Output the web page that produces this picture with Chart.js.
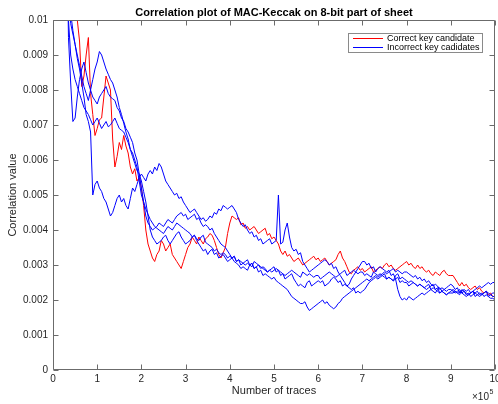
<!DOCTYPE html>
<html><head><meta charset="utf-8">
<script src="https://cdn.jsdelivr.net/npm/chart.js@4.4.1/dist/chart.umd.min.js"></script>
<style>
html,body{margin:0;padding:0;overflow:hidden;background:#fff;width:498px;height:404px}
#wrap{position:absolute;left:0;top:0;width:510px;height:404px}
</style></head><body>
<div id="wrap"><canvas id="c" width="510" height="404"></canvas></div>
<script>
const chartTitle = 'Correlation plot of MAC-Keccak on 8-bit part of sheet';
const xAxisTitle = 'Number of traces';
const yAxisTitle = 'Correlation value';
const xExponentBase = '\u00d710';
const xExponent = '5';
const seriesNames = ['Correct key candidate', 'Incorrect key cadidates'];
const xTickLabels = ['0','1','2','3','4','5','6','7','8','9','10'];
const yTickLabels = ['0','0.001','0.002','0.003','0.004','0.005','0.006','0.007','0.008','0.009','0.01'];

// number of traces, in units of 10^5
const traces = [
 0.30,0.35,0.40,0.45,0.50,0.55,0.60,0.65,0.70,0.75,0.80,0.85,0.90,0.95,1.00,
 1.05,1.10,1.15,1.20,1.25,1.30,1.35,1.40,1.45,1.50,1.55,1.60,1.65,1.70,1.75,1.80,1.85,1.90,1.95,2.00,
 2.05,2.10,2.15,2.20,2.25,2.30,2.35,2.40,2.45,2.50,2.55,2.60,2.65,2.70,2.75,2.80,2.85,2.90,2.95,3.00,
 3.05,3.10,3.15,3.20,3.25,3.30,3.35,3.40,3.45,3.50,3.55,3.60,3.65,3.70,3.75,3.80,3.85,3.90,3.95,4.00,
 4.05,4.10,4.15,4.20,4.25,4.30,4.35,4.40,4.45,4.50,4.55,4.60,4.65,4.70,4.75,4.80,4.85,4.90,4.95,5.00,
 5.05,5.10,5.15,5.20,5.25,5.30,5.35,5.40,5.45,5.50,5.55,5.60,5.65,5.70,5.75,5.80,5.85,5.90,5.95,6.00,
 6.05,6.10,6.15,6.20,6.25,6.30,6.35,6.40,6.45,6.50,6.55,6.60,6.65,6.70,6.75,6.80,6.85,6.90,6.95,7.00,
 7.05,7.10,7.15,7.20,7.25,7.30,7.35,7.40,7.45,7.50,7.55,7.60,7.65,7.70,7.75,7.80,7.85,7.90,7.95,8.00,
 8.05,8.10,8.15,8.20,8.25,8.30,8.35,8.40,8.45,8.50,8.55,8.60,8.65,8.70,8.75,8.80,8.85,8.90,8.95,9.00,
 9.05,9.10,9.15,9.20,9.25,9.30,9.35,9.40,9.45,9.50,9.55,9.60,9.65,9.70,9.75,9.80,9.85,9.90,9.95,10.00
];

const correctKey = [
 0.0140,0.0131,0.0120,0.0110,0.0104,0.0100,0.0094,0.0081,0.0084,0.0090,0.0095,0.0079,0.0073,0.0067,0.0069,
 0.00715,0.0072,0.0078,0.0084,0.0082,0.0080,0.0066,0.0058,0.0061,0.0065,0.0063,0.0067,0.0064,0.0062,0.0058,0.0056,0.00575,0.0054,0.0055,0.0052,
 0.0047,0.0040,0.0036,0.0034,0.0032,0.0031,0.0033,0.0034,0.0037,0.0036,0.0034,0.0035,0.0036,0.0033,0.0032,0.0031,0.0030,0.0029,0.0031,0.0033,
 0.0035,0.0036,0.0038,0.0037,0.0036,0.0038,0.0037,0.0036,0.00375,0.0038,0.0039,0.00385,0.0037,0.0035,0.0033,0.0032,0.00335,0.0035,0.0039,0.0042,
 0.0044,0.00435,0.0043,0.00435,0.00415,0.0042,0.00405,0.0041,0.0040,0.00405,0.0041,0.0040,0.0039,0.00395,0.0040,0.00405,0.00385,0.0039,0.00375,0.0038,
 0.0037,0.0036,0.0034,0.0033,0.0034,0.00325,0.0033,0.0032,0.0031,0.00315,0.0032,0.0031,0.0030,0.00305,0.0031,0.00315,0.0032,0.00325,0.00315,0.0032,
 0.0031,0.00315,0.0032,0.0031,0.0030,0.00305,0.0031,0.00315,0.0033,0.0034,0.0032,0.0031,0.00295,0.0028,0.00275,0.00285,0.0029,0.00295,0.00285,0.0029,
 0.0028,0.00285,0.0029,0.00295,0.0028,0.00285,0.0029,0.00295,0.0029,0.0030,0.00305,0.00295,0.0030,0.0029,0.00285,0.0029,0.00295,0.0030,0.00305,0.0031,
 0.0030,0.00305,0.00295,0.0029,0.0030,0.0029,0.00295,0.00285,0.0028,0.00285,0.00275,0.0027,0.0028,0.00275,0.0027,0.0028,0.00285,0.00275,0.0027,0.0027,
 0.0027,0.0026,0.0025,0.0024,0.0025,0.0024,0.00245,0.00235,0.0023,0.00235,0.0024,0.0023,0.00235,0.00225,0.0022,0.00225,0.00215,0.0022,0.0021,0.0021
];

const wrongKeyA = [
 0.0130,0.0108,0.0099,0.0096,0.0093,0.0089,0.0086,0.0082,0.0078,0.0073,0.0071,0.0068,0.0050,0.0053,0.0054,
 0.0052,0.0051,0.0049,0.0048,0.0046,0.0044,0.0045,0.0047,0.0049,0.0050,0.0048,0.0049,0.0047,0.0046,0.0049,0.0052,0.0051,0.0053,0.0055,0.0056,
 0.0055,0.0054,0.0056,0.0057,0.0056,0.0058,0.0057,0.0059,0.0058,0.0056,0.0054,0.0053,0.0052,0.0051,0.0050,0.00505,0.0049,0.00495,0.0048,0.0047,
 0.0046,0.0045,0.00455,0.0046,0.0045,0.0044,0.0043,0.00435,0.00425,0.0043,0.0044,0.00435,0.0045,0.00445,0.0046,0.00455,0.0047,0.00465,0.0046,0.00465,
 0.0047,0.0046,0.0045,0.0043,0.0042,0.0041,0.00415,0.0040,0.0039,0.00395,0.0038,0.00385,0.0037,0.00375,0.0036,0.00365,0.0037,0.00375,0.0036,0.00365,
 0.0037,0.0050,0.0036,0.00365,0.0040,0.0042,0.0038,0.0035,0.0034,0.00345,0.0033,0.00335,0.0031,0.0030,0.0029,0.0028,0.00285,0.0029,0.00295,0.0030,
 0.00305,0.0031,0.00315,0.0031,0.0030,0.00305,0.0029,0.00295,0.0028,0.0027,0.0026,0.0025,0.0024,0.00245,0.0026,0.0027,0.0028,0.0029,0.0030,0.0031,
 0.0031,0.0030,0.00305,0.0029,0.00295,0.0028,0.0029,0.00295,0.0029,0.00285,0.0028,0.00285,0.0027,0.00275,0.0026,0.0023,0.0021,0.0020,0.00205,0.0020,
 0.0021,0.00205,0.0020,0.00205,0.0021,0.00215,0.0022,0.00215,0.0022,0.00225,0.0023,0.00225,0.0022,0.0023,0.00235,0.00225,0.0023,0.00235,0.0024,0.00245,
 0.0024,0.0023,0.00235,0.0022,0.00225,0.0023,0.00225,0.0023,0.0022,0.00225,0.0023,0.00235,0.0024,0.00235,0.0024,0.00245,0.0025,0.00245,0.0025,0.0025
];

const wrongKeyB = [
 0.0125,0.0110,0.0102,0.0097,0.0093,0.0090,0.0087,0.0084,0.0081,0.0079,0.0077,0.0080,0.0083,0.0086,0.0088,
 0.0091,0.0090,0.0088,0.0086,0.00845,0.0083,0.0082,0.0080,0.0078,0.0075,0.0073,0.00705,0.0068,0.0066,0.0063,0.0061,0.0059,0.0057,0.0056,0.0054,
 0.0051,0.0048,0.0044,0.0040,0.0038,0.0037,0.0036,0.00365,0.0037,0.0038,0.00385,0.0037,0.0036,0.0037,0.0038,0.0039,0.00395,0.0038,0.0037,0.0036,
 0.00365,0.0037,0.0038,0.00385,0.0037,0.0036,0.0035,0.0034,0.00345,0.0033,0.0034,0.00345,0.0033,0.00335,0.0032,0.00325,0.0033,0.0032,0.0031,0.00315,
 0.0032,0.00325,0.0031,0.00315,0.0030,0.00305,0.0031,0.00315,0.0030,0.00305,0.0029,0.00295,0.0030,0.0029,0.00295,0.0029,0.0028,0.00285,0.0029,0.00295,
 0.0028,0.00285,0.0027,0.00275,0.0026,0.00265,0.0027,0.00275,0.0026,0.0025,0.0024,0.00245,0.0024,0.00235,0.0025,0.00255,0.0024,0.00245,0.0025,0.00255,
 0.0025,0.00255,0.0024,0.00245,0.0025,0.0026,0.00265,0.0026,0.0025,0.00255,0.0024,0.00245,0.0024,0.00235,0.0023,0.00235,0.0022,0.00225,0.0022,0.00225,
 0.0023,0.0024,0.0025,0.00255,0.0026,0.00265,0.0026,0.00265,0.0027,0.00275,0.0026,0.00265,0.0026,0.00255,0.0027,0.00275,0.0026,0.00265,0.0026,0.00255,
 0.0025,0.00255,0.0025,0.00245,0.0024,0.00245,0.0024,0.00235,0.0023,0.00235,0.0024,0.00245,0.0023,0.00235,0.0022,0.00225,0.0022,0.00215,0.0022,0.00225,
 0.0023,0.00225,0.0022,0.00225,0.0022,0.00215,0.0021,0.00215,0.0022,0.00225,0.0021,0.00215,0.0022,0.00215,0.0022,0.00225,0.0021,0.00215,0.0021,0.0021
];

const wrongKeyC = [
 0.0135,0.0095,0.0082,0.0071,0.0072,0.0078,0.0083,0.0086,0.0088,0.0085,0.0082,0.0080,0.0078,0.0077,0.0076,
 0.0078,0.0079,0.0080,0.0081,0.0079,0.0078,0.00775,0.0077,0.0075,0.0074,0.0072,0.0071,0.0069,0.0068,0.00665,0.0065,0.0062,0.0060,0.0056,0.0052,
 0.0048,0.0044,0.0042,0.0041,0.0040,0.00405,0.0041,0.0042,0.00415,0.0041,0.0042,0.0043,0.00425,0.0042,0.0043,0.0044,0.00445,0.0045,0.0044,0.00445,
 0.0043,0.00435,0.0044,0.00445,0.0043,0.00435,0.0042,0.0041,0.00415,0.0041,0.0040,0.00405,0.0039,0.0038,0.0037,0.0036,0.00355,0.0035,0.0034,0.0033,
 0.0032,0.0031,0.00305,0.0030,0.0029,0.00295,0.0029,0.00285,0.0030,0.00305,0.0029,0.00295,0.0028,0.00285,0.0027,0.00275,0.0027,0.00265,0.0026,0.00265,
 0.00255,0.0025,0.00245,0.0024,0.00235,0.0023,0.0022,0.0021,0.00205,0.0020,0.00195,0.0019,0.0019,0.00195,0.0018,0.0017,0.00175,0.0018,0.00185,0.0019,
 0.00195,0.0020,0.0019,0.00195,0.00185,0.0018,0.00175,0.0018,0.0019,0.00195,0.00205,0.0021,0.00215,0.0022,0.00225,0.0023,0.00235,0.0024,0.00245,0.0025,
 0.00255,0.0026,0.00255,0.0026,0.00265,0.0027,0.00265,0.0027,0.00275,0.0028,0.00275,0.0028,0.00285,0.0029,0.0028,0.00285,0.0028,0.00275,0.0028,0.0028,
 0.00275,0.0027,0.00265,0.0027,0.0026,0.00265,0.00255,0.0026,0.0025,0.00255,0.00245,0.0024,0.00245,0.0024,0.0023,0.00235,0.0023,0.00225,0.0023,0.0023,
 0.00225,0.0022,0.00225,0.0023,0.0022,0.00225,0.00215,0.0022,0.0021,0.00215,0.0022,0.00225,0.00215,0.0022,0.0021,0.00215,0.0021,0.00205,0.00205,0.0020
];

const wrongKeyD = [
 0.0110,0.0100,0.0090,0.0086,0.0083,0.0081,0.0079,0.0077,0.0075,0.0074,0.0073,0.00715,0.0070,0.0071,0.0072,
 0.00705,0.0069,0.0070,0.0071,0.00695,0.0070,0.0071,0.0072,0.00705,0.0069,0.00685,0.0068,0.00665,0.0065,0.0063,0.0062,0.0060,0.0058,0.0054,0.0050,
 0.0048,0.0046,0.00445,0.0043,0.0042,0.0041,0.00405,0.0040,0.00395,0.0039,0.0040,0.0041,0.00405,0.0040,0.0041,0.0042,0.00415,0.0041,0.00405,0.0040,
 0.00395,0.0039,0.0038,0.00385,0.00375,0.0037,0.0038,0.00385,0.00365,0.0036,0.00355,0.0035,0.0034,0.00345,0.00335,0.0033,0.00335,0.0033,0.0032,0.00325,
 0.0032,0.00325,0.0031,0.00315,0.0031,0.00305,0.0030,0.00305,0.0030,0.00295,0.0031,0.00305,0.0030,0.00295,0.0029,0.00285,0.0028,0.00285,0.0028,0.00285,
 0.0029,0.00285,0.0028,0.00275,0.0027,0.00275,0.0028,0.00285,0.0028,0.00275,0.0027,0.00265,0.0028,0.00275,0.0027,0.00275,0.0027,0.00265,0.0027,0.0027,
 0.0026,0.00265,0.0027,0.00275,0.0028,0.00275,0.0027,0.00265,0.0027,0.00275,0.0028,0.00285,0.0027,0.00275,0.0028,0.00285,0.0028,0.00275,0.0028,0.0028,
 0.0027,0.00275,0.0027,0.00265,0.0028,0.00275,0.0027,0.00275,0.0027,0.00265,0.0026,0.00265,0.0026,0.00255,0.0026,0.00265,0.0025,0.00255,0.0025,0.0025,
 0.0024,0.00245,0.0025,0.00245,0.0024,0.00245,0.0024,0.00235,0.0024,0.00245,0.0023,0.00235,0.0023,0.00225,0.0022,0.00225,0.0022,0.00215,0.0022,0.0022,
 0.0022,0.00225,0.0022,0.00215,0.0023,0.00225,0.0022,0.00215,0.0022,0.00225,0.0022,0.00215,0.0021,0.00215,0.0022,0.00225,0.0022,0.00215,0.0022,0.0022
];

const RED = '#ff0000';
const BLUE = '#0000ff';
const AXIS = '#6b6b6b';
const TEXT = '#262626';
const FONT = '"Liberation Sans", Arial, Helvetica, sans-serif';

Chart.defaults.font.family = FONT;

function pts(ys){ return traces.map((t,i)=>({x:t, y:ys[i]})); }
function ds(label, ys, color, order){
  return {label, data:pts(ys), borderColor:color, backgroundColor:color,
          borderWidth:1, pointRadius:0, tension:0, fill:false, order};
}

const frame = {
  id:'frame',
  afterDraw(chart){
    const {ctx, chartArea:a, scales:{x, y}} = chart;
    ctx.save();
    ctx.strokeStyle = AXIS; ctx.lineWidth = 1;
    const L = Math.round(a.left)+0.5, R = Math.round(a.right)-0.5;
    const T = Math.round(a.top)+0.5, B = Math.round(a.bottom)-0.5;
    ctx.beginPath();
    ctx.moveTo(L,T); ctx.lineTo(R,T); ctx.lineTo(R,B); ctx.lineTo(L,B); ctx.closePath();
    const tl = 5;
    x.ticks.forEach(t=>{
      const px = Math.round(x.getPixelForValue(t.value))+0.5;
      ctx.moveTo(px,B); ctx.lineTo(px,B-tl);
      ctx.moveTo(px,T); ctx.lineTo(px,T+tl);
    });
    y.ticks.forEach(t=>{
      const py = Math.round(y.getPixelForValue(t.value))+0.5;
      ctx.moveTo(L,py); ctx.lineTo(L+tl,py);
      ctx.moveTo(R,py); ctx.lineTo(R-tl,py);
    });
    ctx.stroke();

    ctx.fillStyle = '#000';
    ctx.textAlign = 'center'; ctx.textBaseline = 'middle';
    ctx.font = 'bold 11px ' + FONT;
    ctx.fillText(chartTitle, (a.left+a.right)/2, 13);
    ctx.fillStyle = TEXT;
    ctx.font = '11px ' + FONT;
    ctx.fillText(xAxisTitle, (a.left+a.right)/2, 391);
    ctx.save();
    ctx.translate(13, (a.top+a.bottom)/2);
    ctx.rotate(-Math.PI/2);
    ctx.fillText(yAxisTitle, 0, 0);
    ctx.restore();
    ctx.textAlign = 'left'; ctx.textBaseline = 'alphabetic';
    ctx.font = '10px ' + FONT;
    ctx.fillText(xExponentBase, 472, 400);
    const w = ctx.measureText(xExponentBase).width;
    ctx.font = '7px ' + FONT;
    ctx.fillText(xExponent, 472 + w + 0.5, 394);

    const lx = 348, ly = 33, lw = 134, lh = 19;
    ctx.fillStyle = '#fff';
    ctx.fillRect(lx, ly, lw, lh);
    ctx.strokeStyle = '#8a8a8a';
    ctx.strokeRect(lx+0.5, ly+0.5, lw, lh);
    const rows = [[seriesNames[0], RED, ly+5.5], [seriesNames[1], BLUE, ly+14.5]];
    ctx.font = '9px ' + FONT;
    ctx.textBaseline = 'middle';
    rows.forEach(([txt, col, yy])=>{
      ctx.strokeStyle = col; ctx.lineWidth = 1;
      ctx.beginPath(); ctx.moveTo(353, yy); ctx.lineTo(383, yy); ctx.stroke();
      ctx.fillStyle = '#000';
      ctx.fillText(txt, 387, yy+0.5);
    });
    ctx.restore();
  }
};

new Chart(document.getElementById('c').getContext('2d'), {
  type:'line',
  data:{
    datasets:[
      ds(seriesNames[0], correctKey, RED, 5),
      ds(seriesNames[1], wrongKeyA, BLUE, 4),
      ds(seriesNames[1], wrongKeyB, BLUE, 3),
      ds(seriesNames[1], wrongKeyC, BLUE, 2),
      ds(seriesNames[1], wrongKeyD, BLUE, 1)
    ]
  },
  options:{
    responsive:false,
    animation:false,
    layout:{padding:{left:0, right:15, top:20, bottom:0}},
    plugins:{legend:{display:false}, title:{display:false}, tooltip:{enabled:false}},
    scales:{
      x:{
        type:'linear', min:0, max:10,
        grid:{display:false, drawTicks:false},
        border:{display:false},
        ticks:{stepSize:1, autoSkip:false, maxRotation:0, padding:3, color:TEXT,
               font:{size:10, family:FONT},
               callback:(v,i)=>xTickLabels[i]},
        afterFit(s){ s.height = 34; }
      },
      y:{
        type:'linear', min:0, max:0.01,
        grid:{display:false, drawTicks:false},
        border:{display:false},
        ticks:{stepSize:0.001, autoSkip:false, padding:5, color:TEXT,
               font:{size:10, family:FONT},
               callback:(v,i)=>yTickLabels[i]},
        afterFit(s){ s.width = 53; }
      }
    }
  },
  plugins:[frame]
});
</script>
</body></html>
